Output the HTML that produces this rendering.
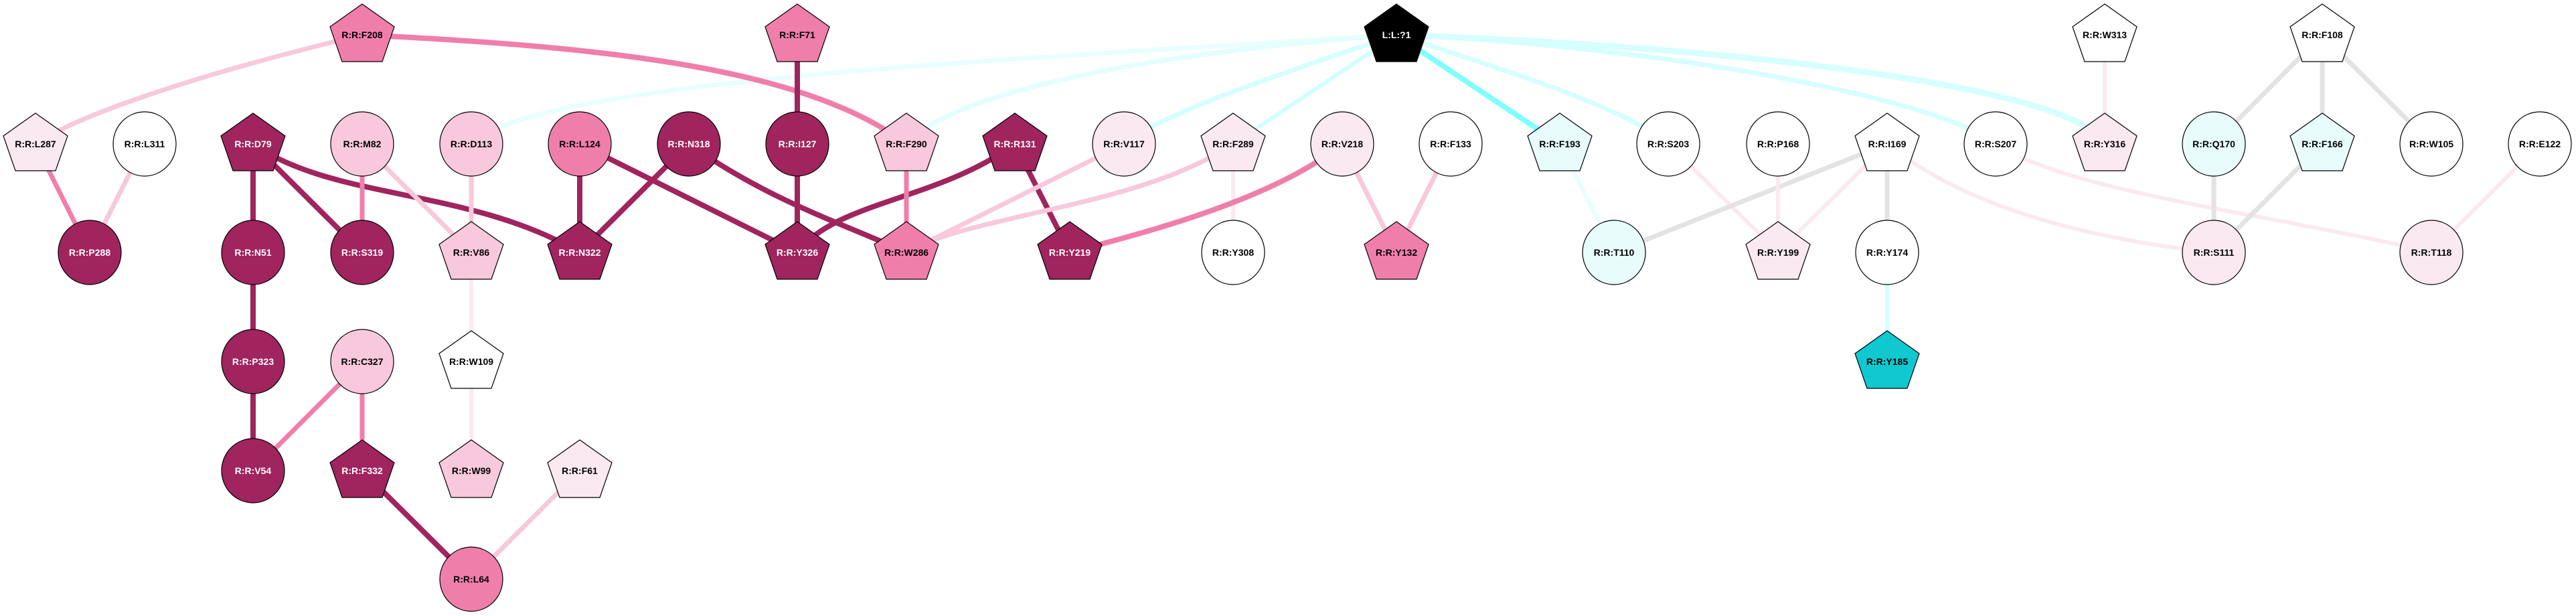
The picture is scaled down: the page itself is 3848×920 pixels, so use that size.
<!DOCTYPE html>
<html><head><meta charset="utf-8"><style>
html,body{margin:0;padding:0;background:#fff;}
svg{display:block}
text{font-family:"Liberation Sans",Arial,sans-serif;font-weight:bold;font-size:14px;text-anchor:middle;dominant-baseline:central}
</style></head><body>
<svg width="3848" height="920" viewBox="0 0 3848 920" xmlns="http://www.w3.org/2000/svg">
<g fill="none" stroke-linecap="round">
<!-- cyan ligand edges -->
<path d="M2086,52 C1500,90 800,120 704,215" stroke="#e8ffff" stroke-width="7"/>
<path d="M2086,52 C1700,80 1420,140 1354,215" stroke="#e3ffff" stroke-width="7"/>
<path d="M2086,52 C1850,130 1720,180 1679,215" stroke="#d6ffff" stroke-width="7"/>
<path d="M2086,52 L1842,215" stroke="#d0ffff" stroke-width="6"/>
<path d="M2086,52 L2330,215" stroke="#80ffff" stroke-width="8"/>
<path d="M2086,52 C2300,120 2440,170 2492,215" stroke="#d6ffff" stroke-width="7"/>
<path d="M2086,52 C2500,70 2900,150 2981,215" stroke="#d6ffff" stroke-width="7"/>
<path d="M2086,52 C2600,70 3100,130 3144,215" stroke="#d6ffff" stroke-width="9"/>
<!-- pink edges -->
<path d="M541,52 C300,110 120,170 53,215" stroke="#f8c8dc" stroke-width="7"/>
<path d="M541,52 C900,70 1200,100 1354,215" stroke="#f07eab" stroke-width="8"/>
<path d="M1191,52 L1191,215" stroke="#a0245e" stroke-width="8"/>
<path d="M53,215 L134,377" stroke="#f07eab" stroke-width="7"/>
<path d="M216,215 L134,377" stroke="#f8c8dc" stroke-width="7"/>
<path d="M378,215 L378,377" stroke="#a0245e" stroke-width="8"/>
<path d="M378,215 L541,377" stroke="#a0245e" stroke-width="8"/>
<path d="M378,215 C500,300 700,280 866,377" stroke="#a0245e" stroke-width="8"/>
<path d="M541,215 L541,377" stroke="#f07eab" stroke-width="7"/>
<path d="M541,215 L704,377" stroke="#f8c8dc" stroke-width="7"/>
<path d="M704,215 L704,377" stroke="#f8c8dc" stroke-width="7"/>
<path d="M866,215 L866,377" stroke="#a0245e" stroke-width="8"/>
<path d="M866,215 L1191,377" stroke="#a0245e" stroke-width="8"/>
<path d="M1029,215 L866,377" stroke="#a0245e" stroke-width="8"/>
<path d="M1029,215 C1150,300 1250,330 1354,377" stroke="#a0245e" stroke-width="8"/>
<path d="M1191,215 L1191,377" stroke="#a0245e" stroke-width="8"/>
<path d="M378,377 L378,703" stroke="#a0245e" stroke-width="8"/>
<path d="M541,540 L378,703" stroke="#f07eab" stroke-width="7"/>
<path d="M541,540 L541,703" stroke="#f07eab" stroke-width="7"/>
<path d="M704,377 L704,703" stroke="#fbe9f1" stroke-width="6"/>
<path d="M541,703 L704,865" stroke="#a0245e" stroke-width="8"/>
<path d="M866,703 L704,865" stroke="#f8c8dc" stroke-width="7"/>
<path d="M1516,215 C1400,300 1250,300 1191,377" stroke="#a0245e" stroke-width="8"/>
<path d="M1516,215 L1598,377" stroke="#a0245e" stroke-width="8"/>
<path d="M1354,215 L1354,377" stroke="#f07eab" stroke-width="7"/>
<path d="M1679,215 L1354,377" stroke="#f8c8dc" stroke-width="7"/>
<path d="M1842,215 C1700,310 1450,320 1354,377" stroke="#f8c8dc" stroke-width="7"/>
<path d="M1842,215 L1842,377" stroke="#fbe9f1" stroke-width="6"/>
<path d="M2005,215 C1900,300 1700,350 1598,377" stroke="#f07eab" stroke-width="8"/>
<path d="M2005,215 L2086,377" stroke="#f8c8dc" stroke-width="7"/>
<path d="M2167,215 L2086,377" stroke="#f8c8dc" stroke-width="7"/>
<path d="M2330,215 L2411,377" stroke="#e8ffff" stroke-width="6"/>
<path d="M2492,215 L2656,377" stroke="#fbe9f1" stroke-width="6"/>
<path d="M2819,215 L2411,377" stroke="#e3e3e3" stroke-width="7"/>
<path d="M2656,215 L2656,377" stroke="#fbe9f1" stroke-width="6"/>
<path d="M2819,215 L2656,377" stroke="#fbe9f1" stroke-width="6"/>
<path d="M2819,215 L2819,377" stroke="#e3e3e3" stroke-width="7"/>
<path d="M2819,215 C2950,320 3150,360 3307,377" stroke="#fbe9f1" stroke-width="6"/>
<path d="M2981,215 C3100,290 3400,320 3632,377" stroke="#fbe9f1" stroke-width="6"/>
<path d="M2819,377 L2819,540" stroke="#d6ffff" stroke-width="6"/>
<path d="M3144,52 L3144,215" stroke="#fbe9f1" stroke-width="6"/>
<path d="M3469,52 L3307,215" stroke="#e3e3e3" stroke-width="7"/>
<path d="M3469,52 L3469,215" stroke="#e3e3e3" stroke-width="7"/>
<path d="M3469,52 L3632,215" stroke="#e3e3e3" stroke-width="7"/>
<path d="M3307,215 L3307,377" stroke="#e3e3e3" stroke-width="7"/>
<path d="M3469,215 L3307,377" stroke="#e3e3e3" stroke-width="7"/>
<path d="M3794,215 L3632,377" stroke="#fbe9f1" stroke-width="6"/>
</g>
<defs>
<polygon id="pg" points="0,-46 48,-12 30,40 -30,40 -48,-12" stroke="#000" stroke-width="1.2"/>
</defs>
<g stroke="#000" stroke-width="1.2">
<!-- circles -->
<ellipse cx="216" cy="215" rx="47" ry="48" fill="#fff"/>
<ellipse cx="541" cy="215" rx="47" ry="48" fill="#f8c8dc"/>
<ellipse cx="704" cy="215" rx="47" ry="48" fill="#f8c8dc"/>
<ellipse cx="866" cy="215" rx="47" ry="48" fill="#f07eab"/>
<ellipse cx="1029" cy="215" rx="47" ry="48" fill="#a0245e"/>
<ellipse cx="1191" cy="215" rx="47" ry="48" fill="#a0245e"/>
<ellipse cx="134" cy="377" rx="47" ry="48" fill="#a0245e"/>
<ellipse cx="378" cy="377" rx="47" ry="48" fill="#a0245e"/>
<ellipse cx="541" cy="377" rx="47" ry="48" fill="#a0245e"/>
<ellipse cx="378" cy="540" rx="47" ry="48" fill="#a0245e"/>
<ellipse cx="541" cy="540" rx="47" ry="48" fill="#f8c8dc"/>
<ellipse cx="378" cy="703" rx="47" ry="48" fill="#a0245e"/>
<ellipse cx="704" cy="865" rx="47" ry="48" fill="#f07eab"/>
<ellipse cx="1679" cy="215" rx="47" ry="48" fill="#fbe9f1"/>
<ellipse cx="2005" cy="215" rx="47" ry="48" fill="#fbe9f1"/>
<ellipse cx="2167" cy="215" rx="47" ry="48" fill="#fff"/>
<ellipse cx="2492" cy="215" rx="47" ry="48" fill="#fff"/>
<ellipse cx="1842" cy="377" rx="47" ry="48" fill="#fff"/>
<ellipse cx="2411" cy="377" rx="47" ry="48" fill="#e8fcfc"/>
<ellipse cx="2656" cy="215" rx="47" ry="48" fill="#fff"/>
<ellipse cx="2981" cy="215" rx="47" ry="48" fill="#fff"/>
<ellipse cx="3307" cy="215" rx="47" ry="48" fill="#e8fcfc"/>
<ellipse cx="3632" cy="215" rx="47" ry="48" fill="#fff"/>
<ellipse cx="3794" cy="215" rx="47" ry="48" fill="#fff"/>
<ellipse cx="2819" cy="377" rx="47" ry="48" fill="#fff"/>
<ellipse cx="3307" cy="377" rx="47" ry="48" fill="#fbe9f1"/>
<ellipse cx="3632" cy="377" rx="47" ry="48" fill="#fbe9f1"/>
</g>
<g>
<use href="#pg" x="541" y="52" fill="#f07eab"/>
<use href="#pg" x="1191" y="52" fill="#f07eab"/>
<use href="#pg" x="53" y="215" fill="#fbe9f1"/>
<use href="#pg" x="378" y="215" fill="#a0245e"/>
<use href="#pg" x="704" y="377" fill="#f8c8dc"/>
<use href="#pg" x="866" y="377" fill="#a0245e"/>
<use href="#pg" x="1191" y="377" fill="#a0245e"/>
<use href="#pg" x="704" y="540" fill="#fff"/>
<use href="#pg" x="541" y="703" fill="#a0245e"/>
<use href="#pg" x="704" y="703" fill="#f8c8dc"/>
<use href="#pg" x="866" y="703" fill="#fbe9f1"/>
<use href="#pg" x="1354" y="215" fill="#f8c8dc"/>
<use href="#pg" x="1516" y="215" fill="#a0245e"/>
<use href="#pg" x="1842" y="215" fill="#fbe9f1"/>
<use href="#pg" x="2330" y="215" fill="#e8fcfc"/>
<use href="#pg" x="2086" y="52" fill="#000"/>
<use href="#pg" x="1354" y="377" fill="#f07eab"/>
<use href="#pg" x="1598" y="377" fill="#a0245e"/>
<use href="#pg" x="2086" y="377" fill="#f07eab"/>
<use href="#pg" x="2819" y="215" fill="#fff"/>
<use href="#pg" x="3144" y="215" fill="#fbe9f1"/>
<use href="#pg" x="3469" y="215" fill="#e8fcfc"/>
<use href="#pg" x="3144" y="52" fill="#fff"/>
<use href="#pg" x="3469" y="52" fill="#fff"/>
<use href="#pg" x="2656" y="377" fill="#fbe9f1"/>
<use href="#pg" x="2819" y="540" fill="#10c8d0"/>
</g>
<g fill="#000">
<text x="541" y="52">R:R:F208</text><text x="1191" y="52">R:R:F71</text>
<text x="53" y="215">R:R:L287</text><text x="216" y="215">R:R:L311</text>
<text x="541" y="215">R:R:M82</text><text x="704" y="215">R:R:D113</text>
<text x="866" y="215">R:R:L124</text>
<text x="704" y="377">R:R:V86</text>
<text x="541" y="540">R:R:C327</text><text x="704" y="540">R:R:W109</text>
<text x="704" y="703">R:R:W99</text><text x="866" y="703">R:R:F61</text>
<text x="704" y="865">R:R:L64</text>
<text x="1354" y="215">R:R:F290</text><text x="1679" y="215">R:R:V117</text>
<text x="1842" y="215">R:R:F289</text><text x="2005" y="215">R:R:V218</text>
<text x="2167" y="215">R:R:F133</text><text x="2330" y="215">R:R:F193</text>
<text x="2492" y="215">R:R:S203</text>
<text x="1354" y="377">R:R:W286</text><text x="1842" y="377">R:R:Y308</text>
<text x="2086" y="377">R:R:Y132</text><text x="2411" y="377">R:R:T110</text>
<text x="2656" y="215">R:R:P168</text><text x="2819" y="215">R:R:I169</text>
<text x="2981" y="215">R:R:S207</text><text x="3144" y="215">R:R:Y316</text>
<text x="3307" y="215">R:R:Q170</text><text x="3469" y="215">R:R:F166</text>
<text x="3632" y="215">R:R:W105</text><text x="3794" y="215">R:R:E122</text>
<text x="3144" y="52">R:R:W313</text><text x="3469" y="52">R:R:F108</text>
<text x="2656" y="377">R:R:Y199</text><text x="2819" y="377">R:R:Y174</text>
<text x="3307" y="377">R:R:S111</text><text x="3632" y="377">R:R:T118</text>
<text x="2819" y="540">R:R:Y185</text>
</g>
<g fill="#fff">
<text x="378" y="215">R:R:D79</text><text x="1029" y="215">R:R:N318</text>
<text x="1191" y="215">R:R:I127</text>
<text x="134" y="377">R:R:P288</text><text x="378" y="377">R:R:N51</text>
<text x="541" y="377">R:R:S319</text><text x="866" y="377">R:R:N322</text>
<text x="1191" y="377">R:R:Y326</text>
<text x="378" y="540">R:R:P323</text>
<text x="378" y="703">R:R:V54</text><text x="541" y="703">R:R:F332</text>
<text x="1516" y="215">R:R:R131</text><text x="1598" y="377">R:R:Y219</text>
<text x="2086" y="52">L:L:?1</text>
</g>
</svg>
</body></html>
